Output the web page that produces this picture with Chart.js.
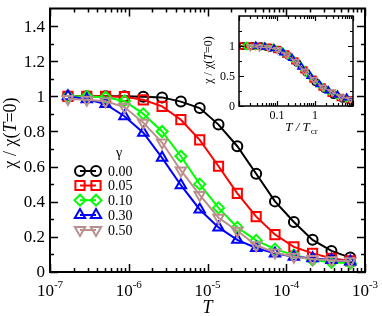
<!DOCTYPE html>
<html>
<head>
<meta charset="utf-8">
<script src="https://cdn.jsdelivr.net/npm/chart.js@4.4.1/dist/chart.umd.min.js"></script>
<style>
body { margin: 0; background: #fff; }
#wrap { position: relative; width: 382px; height: 316px; }
#main { position: absolute; left: 0; top: 0; }
#inset { position: absolute; left: 195px; top: 0; }
</style>
</head>
<body>
<div id="wrap">
  <canvas id="main" width="382" height="316"></canvas>
  <canvas id="inset" width="170" height="140"></canvas>
</div>
<script>
// temperatures (same for every gamma)
var temps = [1.69e-7, 2.93e-7, 5.08e-7, 8.81e-7, 1.53e-6, 2.65e-6, 4.59e-6, 7.96e-6,
             1.38e-5, 2.39e-5, 4.15e-5, 7.19e-5, 1.25e-4, 2.16e-4, 3.75e-4, 6.50e-4];

var chi00 = [1.0, 1.0, 1.0, 1.0, 0.998, 0.994, 0.97, 0.933, 0.839, 0.716, 0.559, 0.402, 0.285, 0.183, 0.12, 0.082];
var chi05 = [1.0, 1.0, 1.0, 0.998, 0.98, 0.943, 0.867, 0.752, 0.602, 0.448, 0.315, 0.213, 0.143, 0.106, 0.078, 0.063];
var chi10 = [1.0, 0.999, 0.995, 0.974, 0.9, 0.80, 0.659, 0.50, 0.365, 0.254, 0.18, 0.13, 0.096, 0.068, 0.055, 0.05];
var chi30 = [1.0, 0.983, 0.956, 0.887, 0.793, 0.65, 0.494, 0.356, 0.254, 0.183, 0.137, 0.106, 0.087, 0.078, 0.068, 0.06];
var chi50 = [0.985, 0.98, 0.972, 0.939, 0.85, 0.737, 0.578, 0.439, 0.309, 0.235, 0.152, 0.111, 0.087, 0.074, 0.067, 0.061];

var gammas = ['0.00', '0.05', '0.10', '0.30', '0.50'];
// crossover temperature used for the inset scaling
var tcr = [7.0e-5, 2.7e-5, 1.09e-5, 6.1e-6, 8.5e-6];

var xTickExps = [-7, -6, -5, -4, -3];
var yTickValues = [0, 0.2, 0.4, 0.6, 0.8, 1, 1.2, 1.4];
var yTickLabels = ['0', '0.2', '0.4', '0.6', '0.8', '1', '1.2', '1.4'];
var insetXTicks = [0.1, 1];
var insetXLabels = ['0.1', '1'];
var insetYTicks = [0, 0.5, 1];
var insetYLabels = ['0', '0.5', '1'];

var series = [chi00, chi05, chi10, chi30, chi50];
var colors = ['#000000', '#ff0000', '#00ff00', '#0000ff', '#bc8f8f'];
var shapes = ['circle', 'rect', 'rectRot', 'triangle', 'triangle'];
var rotations = [0, 0, 0, 0, 180];
var radii = [5, 6.5, 5.5, 6, 6];

var serif = '"Liberation Serif", "Times New Roman", serif';
var clear = 'rgba(0,0,0,0)';

function makeSets(scaleX, k, lw, bw) {
    var sets = [];
    for (let i = 0; i < series.length; i++) {
        var pts = [];
        for (let j = 0; j < temps.length; j++) {
            pts.push({ x: scaleX ? temps[j] / tcr[i] : temps[j], y: series[i][j] });
        }
        sets.push({
            label: gammas[i],
            data: pts,
            borderColor: colors[i],
            backgroundColor: clear,
            borderWidth: lw,
            pointStyle: shapes[i],
            pointRotation: rotations[i],
            pointRadius: radii[i] * k,
            pointBorderWidth: bw,
            pointBorderColor: colors[i],
            pointBackgroundColor: clear,
            tension: 0,
            order: series.length - i
        });
    }
    return sets;
}

function minorLog(lo, hi) {
    var out = [];
    for (let e = lo; e < hi; e++) {
        for (let m = 2; m <= 9; m++) out.push(m * Math.pow(10, e));
    }
    return out;
}

function tickMarks(ctx, a, xs, ys, xList, yList, len) {
    ctx.beginPath();
    xList.forEach(function (v) {
        var p = Math.round(xs.getPixelForValue(v)) + 0.5;
        ctx.moveTo(p, a.bottom); ctx.lineTo(p, a.bottom - len);
        ctx.moveTo(p, a.top); ctx.lineTo(p, a.top + len);
    });
    yList.forEach(function (v) {
        var p = Math.round(ys.getPixelForValue(v)) + 0.5;
        ctx.moveTo(a.left, p); ctx.lineTo(a.left + len, p);
        ctx.moveTo(a.right, p); ctx.lineTo(a.right - len, p);
    });
    ctx.stroke();
}

// draws "chi / chi(T=0)" with an italic T, centred at 0,0
function chiLabel(ctx, size) {
    var parts = [['χ / χ(', ''], ['T', 'italic '], ['=0)', '']];
    var total = 0;
    parts.forEach(function (p) {
        ctx.font = p[1] + size + 'px ' + serif;
        p.push(ctx.measureText(p[0]).width);
        total += p[2];
    });
    var x = -total / 2;
    ctx.textAlign = 'left';
    ctx.textBaseline = 'middle';
    parts.forEach(function (p) {
        ctx.font = p[1] + size + 'px ' + serif;
        ctx.fillText(p[0], x, 0);
        x += p[2];
    });
}

var mainAxes = {
    id: 'mainAxes',
    afterDraw: function (chart) {
        var ctx = chart.ctx, a = chart.chartArea;
        var xs = chart.scales.x, ys = chart.scales.y;
        ctx.save();
        ctx.strokeStyle = '#000';
        ctx.fillStyle = '#000';
        ctx.lineWidth = 1.5;
        var yMinor = [];
        for (let i = 1; i < 15; i += 2) yMinor.push(i / 10);
        tickMarks(ctx, a, xs, ys, minorLog(-7, -3), yMinor, 4);
        tickMarks(ctx, a, xs, ys, xTickExps.map(e => Math.pow(10, e)), yTickValues, 8);
        ctx.lineWidth = 2;
        ctx.strokeRect(a.left, a.top, a.right - a.left, a.bottom - a.top);

        // y tick labels
        ctx.font = '17px ' + serif;
        ctx.textAlign = 'right';
        ctx.textBaseline = 'middle';
        yTickValues.forEach(function (v, i) {
            ctx.fillText(yTickLabels[i], a.left - 5, ys.getPixelForValue(v) + 1);
        });

        // x tick labels 10^n
        ctx.textBaseline = 'alphabetic';
        ctx.textAlign = 'left';
        xTickExps.forEach(function (e) {
            var p = xs.getPixelForValue(Math.pow(10, e));
            ctx.font = '17px ' + serif;
            var w1 = ctx.measureText('10').width;
            ctx.font = '11px ' + serif;
            var w2 = ctx.measureText(String(e)).width;
            var x0 = p - (w1 + w2) / 2;
            ctx.font = '17px ' + serif;
            ctx.fillText('10', x0, 296);
            ctx.font = '11px ' + serif;
            ctx.fillText(String(e), x0 + w1, 288);
        });

        // axis titles
        ctx.font = 'italic 18px ' + serif;
        ctx.textAlign = 'center';
        ctx.fillText('T', (a.left + a.right) / 2, 313);
        ctx.save();
        ctx.translate(11, 133);
        ctx.rotate(-Math.PI / 2);
        chiLabel(ctx, 18);
        ctx.restore();

        // legend
        ctx.font = '14px ' + serif;
        ctx.textAlign = 'center';
        ctx.textBaseline = 'middle';
        ctx.fillText('γ', 119, 153);
        var rowY = [171, 185.5, 200.2, 215, 230];
        for (let i = 0; i < series.length; i++) {
            var y = rowY[i];
            ctx.strokeStyle = colors[i];
            ctx.lineWidth = 2;
            ctx.beginPath();
            ctx.moveTo(80, y); ctx.lineTo(96, y);
            ctx.stroke();
            ctx.fillStyle = clear;
            [80, 96].forEach(function (px) {
                Chart.helpers.drawPoint(ctx, {
                    pointStyle: shapes[i], rotation: rotations[i],
                    radius: radii[i], borderWidth: 2
                }, px, y);
            });
            ctx.fillStyle = '#000';
            ctx.textAlign = 'left';
            ctx.fillText(gammas[i], 108, y + 1);
        }
        ctx.restore();
    }
};

var insetAxes = {
    id: 'insetAxes',
    afterDraw: function (chart) {
        var ctx = chart.ctx, a = chart.chartArea;
        var xs = chart.scales.x, ys = chart.scales.y;
        ctx.save();
        ctx.strokeStyle = '#000';
        ctx.fillStyle = '#000';
        ctx.lineWidth = 1.2;
        tickMarks(ctx, a, xs, ys, minorLog(-2, 1), [0.25, 0.75, 1.25], 3);
        tickMarks(ctx, a, xs, ys, [0.01, 0.1, 1, 10], insetYTicks, 5);
        ctx.lineWidth = 1.5;
        ctx.strokeRect(a.left, a.top, a.right - a.left, a.bottom - a.top);

        ctx.font = '12px ' + serif;
        ctx.textAlign = 'right';
        ctx.textBaseline = 'middle';
        insetYTicks.forEach(function (v, i) {
            ctx.fillText(insetYLabels[i], a.left - 4, ys.getPixelForValue(v) + 1);
        });
        ctx.textAlign = 'center';
        ctx.textBaseline = 'alphabetic';
        insetXTicks.forEach(function (v, i) {
            ctx.fillText(insetXLabels[i], xs.getPixelForValue(v), 119);
        });

        // T / T_cr
        ctx.textAlign = 'left';
        ctx.font = 'italic 13px ' + serif;
        var s1 = 'T / T';
        var w1 = ctx.measureText(s1).width;
        ctx.font = '9px ' + serif;
        var w2 = ctx.measureText('cr').width;
        var x0 = 106 - (w1 + w2) / 2;
        ctx.font = 'italic 13px ' + serif;
        ctx.fillText(s1, x0, 131);
        ctx.font = '9px ' + serif;
        ctx.fillText('cr', x0 + w1 + 1, 134);

        ctx.save();
        ctx.translate(14, 60);
        ctx.rotate(-Math.PI / 2);
        chiLabel(ctx, 12);
        ctx.restore();
        ctx.restore();
    }
};

new Chart('main', {
    type: 'line',
    data: { datasets: makeSets(false, 1, 2, 2) },
    options: {
        responsive: false,
        animation: false,
        layout: { padding: { left: 50, right: 17, top: 3, bottom: 44 } },
        plugins: { legend: { display: false }, tooltip: { enabled: false } },
        scales: {
            x: { type: 'logarithmic', min: 1e-7, max: 1e-3, display: false },
            y: { type: 'linear', min: 0, max: 1.5, display: false }
        }
    },
    plugins: [mainAxes]
});

new Chart('inset', {
    type: 'line',
    data: { datasets: makeSets(true, 0.65, 1.2, 1.5) },
    options: {
        responsive: false,
        animation: false,
        layout: { padding: { left: 44, right: 12, top: 16, bottom: 34 } },
        plugins: { legend: { display: false }, tooltip: { enabled: false } },
        scales: {
            x: { type: 'logarithmic', min: 0.01, max: 10, display: false },
            y: { type: 'linear', min: 0, max: 1.5, display: false }
        }
    },
    plugins: [insetAxes]
});
</script>
</body>
</html>
